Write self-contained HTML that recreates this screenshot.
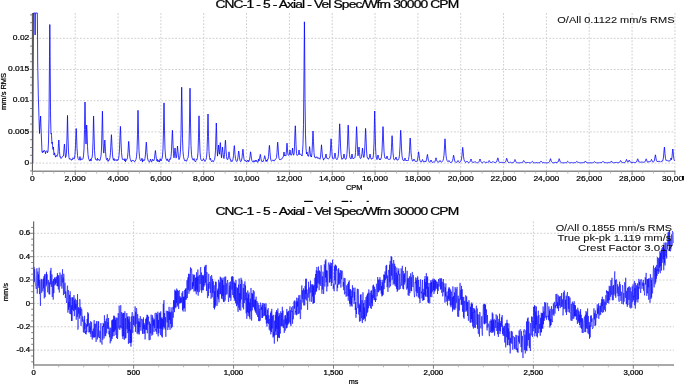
<!DOCTYPE html>
<html><head><meta charset="utf-8"><style>
html,body{margin:0;padding:0;background:#fff;width:685px;height:385px;overflow:hidden}
svg{display:block;font-family:"Liberation Sans",sans-serif;will-change:transform}
.g{stroke:#cfcfcf;stroke-width:1;stroke-dasharray:1.8 1.6;fill:none}
.t{stroke:#707070;stroke-width:0.9}
.tm{stroke:#a8a8a8;stroke-width:0.8}
.tx{fill:#000;stroke:#000;stroke-width:0.22px}
.tx2{fill:#111;stroke:#111;stroke-width:0.08px}
</style></head><body>
<svg width="685" height="385" viewBox="0 0 685 385">
<rect width="685" height="385" fill="#fff"/>
<line x1="32.4" y1="163.10" x2="674.9" y2="163.10" class="g"/>
<line x1="32.4" y1="131.90" x2="674.9" y2="131.90" class="g"/>
<line x1="32.4" y1="100.70" x2="674.9" y2="100.70" class="g"/>
<line x1="32.4" y1="69.50" x2="674.9" y2="69.50" class="g"/>
<line x1="32.4" y1="38.30" x2="674.9" y2="38.30" class="g"/>
<line x1="75.23" y1="13.0" x2="75.23" y2="171.3" class="g"/>
<line x1="118.07" y1="13.0" x2="118.07" y2="171.3" class="g"/>
<line x1="160.90" y1="13.0" x2="160.90" y2="171.3" class="g"/>
<line x1="203.73" y1="13.0" x2="203.73" y2="171.3" class="g"/>
<line x1="246.57" y1="13.0" x2="246.57" y2="171.3" class="g"/>
<line x1="289.40" y1="13.0" x2="289.40" y2="171.3" class="g"/>
<line x1="332.23" y1="13.0" x2="332.23" y2="171.3" class="g"/>
<line x1="375.07" y1="13.0" x2="375.07" y2="171.3" class="g"/>
<line x1="417.90" y1="13.0" x2="417.90" y2="171.3" class="g"/>
<line x1="460.73" y1="13.0" x2="460.73" y2="171.3" class="g"/>
<line x1="503.57" y1="13.0" x2="503.57" y2="171.3" class="g"/>
<line x1="546.40" y1="13.0" x2="546.40" y2="171.3" class="g"/>
<line x1="589.23" y1="13.0" x2="589.23" y2="171.3" class="g"/>
<line x1="632.07" y1="13.0" x2="632.07" y2="171.3" class="g"/>
<line x1="674.90" y1="13.0" x2="674.90" y2="171.3" class="g"/>
<line x1="33.7" y1="350.14" x2="674.0" y2="350.14" class="g"/>
<line x1="33.7" y1="326.77" x2="674.0" y2="326.77" class="g"/>
<line x1="33.7" y1="303.40" x2="674.0" y2="303.40" class="g"/>
<line x1="33.7" y1="280.03" x2="674.0" y2="280.03" class="g"/>
<line x1="33.7" y1="256.66" x2="674.0" y2="256.66" class="g"/>
<line x1="33.7" y1="233.29" x2="674.0" y2="233.29" class="g"/>
<line x1="133.63" y1="221.4" x2="133.63" y2="365.0" class="g"/>
<line x1="233.57" y1="221.4" x2="233.57" y2="365.0" class="g"/>
<line x1="333.50" y1="221.4" x2="333.50" y2="365.0" class="g"/>
<line x1="433.43" y1="221.4" x2="433.43" y2="365.0" class="g"/>
<line x1="533.37" y1="221.4" x2="533.37" y2="365.0" class="g"/>
<line x1="633.30" y1="221.4" x2="633.30" y2="365.0" class="g"/>
<path d="M32.80,163.10 L33.50,13.00 L34.90,13.00 L35.10,35.00 L35.30,13.00 L37.30,13.00 L37.50,30.00 L37.70,64.00 L38.30,95.00 L38.90,115.00 L39.50,133.50 L40.10,122.00 L40.60,116.00 L41.20,132.00 L42.00,152.04 L42.50,152.74 L43.00,150.86 L43.50,152.13 L44.00,150.34 L44.50,150.52 L45.00,150.97 L45.50,153.78 L46.00,151.47 L46.50,150.93 L47.00,150.78 L47.50,152.77 L48.00,151.26 L48.50,142.06 L49.00,118.62 L49.50,56.28 L49.80,24.50 L50.00,40.69 L50.50,110.20 L50.60,118.00 L51.00,133.60 L51.30,133.00 L51.50,135.27 L52.00,143.59 L52.20,142.00 L52.50,145.27 L53.00,149.50 L53.30,147.00 L53.50,148.22 L54.00,155.05 L54.50,152.89 L55.00,154.60 L55.50,157.16 L56.00,155.91 L56.50,155.43 L57.00,156.44 L57.50,155.52 L58.00,153.08 L58.50,143.58 L58.80,140.00 L59.00,141.74 L59.50,151.55 L60.00,157.24 L60.50,156.81 L61.00,158.47 L61.50,157.86 L62.00,157.52 L62.50,156.34 L63.00,156.16 L63.50,155.90 L64.00,148.70 L64.40,144.00 L64.50,144.38 L65.00,152.09 L65.50,157.59 L66.00,156.67 L66.50,152.02 L67.00,136.98 L67.50,115.40 L68.00,136.98 L68.50,152.02 L69.00,157.45 L69.50,159.25 L70.00,158.59 L70.50,159.15 L71.00,159.25 L71.50,160.32 L72.00,159.05 L72.50,159.56 L73.00,157.69 L73.50,158.30 L74.00,159.09 L74.50,158.08 L75.00,154.32 L75.50,145.80 L76.00,131.11 L76.20,128.50 L76.50,133.87 L77.00,148.10 L77.50,155.32 L78.00,158.55 L78.50,159.49 L79.00,160.19 L79.50,158.97 L80.00,156.57 L80.50,160.14 L81.00,159.90 L81.50,158.95 L82.00,158.63 L82.50,159.41 L83.00,158.80 L83.50,155.86 L84.00,148.91 L84.50,129.65 L85.00,102.00 L85.50,129.65 L86.00,144.05 L86.50,127.88 L86.70,125.00 L87.00,130.91 L87.50,146.58 L88.00,154.54 L88.50,158.09 L89.00,159.45 L89.50,160.86 L90.00,160.63 L90.50,158.93 L91.00,161.08 L91.50,158.39 L92.00,158.12 L92.50,153.68 L93.00,141.59 L93.50,117.51 L93.60,116.00 L94.00,132.29 L94.50,150.29 L95.00,156.80 L95.50,159.46 L96.00,159.75 L96.50,159.62 L97.00,160.56 L97.50,158.21 L98.00,160.09 L98.50,159.53 L99.00,160.39 L99.50,160.20 L100.00,160.51 L100.50,158.09 L101.00,156.16 L101.50,148.99 L102.00,129.15 L102.40,111.20 L102.50,112.86 L103.00,139.40 L103.50,152.72 L104.00,153.08 L104.50,143.58 L104.80,140.00 L105.00,141.74 L105.50,151.55 L106.00,157.24 L106.50,159.75 L107.00,159.35 L107.50,158.16 L108.00,161.41 L108.50,160.02 L109.00,160.51 L109.50,159.71 L110.00,157.42 L110.50,152.40 L111.00,141.69 L111.40,134.70 L111.50,135.27 L112.00,146.73 L112.50,154.91 L113.00,158.54 L113.50,160.26 L114.00,158.46 L114.50,160.55 L115.00,159.67 L115.50,160.05 L116.00,160.53 L116.50,160.62 L117.00,159.36 L117.50,160.42 L118.00,160.22 L118.50,158.71 L119.00,155.76 L119.50,149.27 L120.00,135.43 L120.40,126.40 L120.50,127.13 L121.00,141.94 L121.50,152.52 L122.00,157.20 L122.50,159.43 L123.00,159.39 L123.50,159.36 L124.00,159.27 L124.50,160.82 L125.00,158.64 L125.50,161.74 L126.00,159.41 L126.50,159.83 L127.00,159.43 L127.50,157.59 L128.00,152.25 L128.50,143.04 L128.70,141.40 L129.00,144.77 L129.50,153.69 L130.00,158.22 L130.50,159.57 L131.00,161.26 L131.50,161.82 L132.00,160.21 L132.50,160.45 L133.00,160.77 L133.50,160.46 L134.00,161.45 L134.50,161.83 L135.00,160.68 L135.50,160.66 L136.00,159.39 L136.50,156.84 L137.00,150.84 L137.50,134.19 L138.00,110.30 L138.50,134.19 L139.00,150.84 L139.50,156.84 L140.00,159.39 L140.50,160.66 L141.00,160.11 L141.50,160.13 L142.00,158.27 L142.50,162.03 L143.00,159.52 L143.50,160.60 L144.00,160.52 L144.50,160.35 L145.00,158.40 L145.50,154.04 L146.00,145.44 L146.30,142.20 L146.50,143.78 L147.00,152.65 L147.50,157.79 L148.00,160.07 L148.50,161.18 L149.00,161.78 L149.50,162.15 L150.00,161.08 L150.50,159.04 L151.00,160.45 L151.50,161.78 L152.00,161.53 L152.50,159.27 L153.00,160.33 L153.50,160.45 L154.00,160.56 L154.50,158.35 L155.00,153.60 L155.40,150.50 L155.50,150.75 L156.00,155.84 L156.50,159.47 L157.00,161.08 L157.50,159.31 L158.00,161.88 L158.50,160.65 L159.00,160.51 L159.50,161.94 L160.00,158.64 L160.50,158.92 L161.00,161.00 L161.50,159.67 L162.00,158.87 L162.50,155.97 L163.00,149.12 L163.50,130.14 L164.00,102.90 L164.50,130.14 L165.00,149.12 L165.50,155.97 L166.00,158.87 L166.50,160.14 L167.00,160.51 L167.50,158.85 L168.00,161.10 L168.50,160.92 L169.00,161.77 L169.50,158.81 L170.00,159.46 L170.50,159.18 L171.00,156.54 L171.50,150.74 L172.00,138.37 L172.40,130.30 L172.50,130.96 L173.00,144.19 L173.50,153.65 L174.00,157.83 L174.50,153.10 L175.00,148.00 L175.50,153.10 L176.00,158.13 L176.50,157.48 L177.00,151.78 L177.50,146.00 L178.00,151.78 L178.50,157.48 L179.00,159.57 L179.50,158.64 L180.00,155.91 L180.50,149.92 L181.00,134.13 L181.50,96.06 L181.70,87.20 L182.00,104.60 L182.50,138.74 L183.00,151.58 L183.50,156.62 L184.00,158.88 L184.50,160.28 L185.00,161.05 L185.50,160.30 L186.00,160.50 L186.50,161.30 L187.00,160.01 L187.50,158.37 L188.00,157.83 L188.50,154.22 L189.00,145.70 L189.50,122.09 L190.00,88.20 L190.50,122.09 L191.00,145.70 L191.50,154.22 L192.00,157.83 L192.50,158.89 L193.00,160.23 L193.50,159.92 L194.00,158.45 L194.50,160.71 L195.00,161.12 L195.50,161.92 L196.00,160.46 L196.50,158.95 L197.00,159.49 L197.50,157.49 L198.00,152.11 L198.50,137.20 L199.00,115.80 L199.50,137.20 L200.00,152.11 L200.50,157.49 L201.00,159.77 L201.50,160.56 L202.00,160.30 L202.50,160.61 L203.00,160.00 L203.50,158.58 L204.00,159.92 L204.50,160.49 L205.00,161.50 L205.50,160.15 L206.00,159.65 L206.50,157.28 L207.00,151.70 L207.50,136.22 L208.00,114.00 L208.50,136.22 L209.00,151.70 L209.50,157.28 L210.00,159.65 L210.50,158.27 L211.00,160.39 L211.50,161.42 L212.00,161.83 L212.50,160.68 L213.00,160.81 L213.50,161.61 L214.00,160.52 L214.50,159.68 L215.00,157.01 L215.50,150.23 L216.00,132.19 L216.30,123.00 L216.50,127.68 L217.00,147.79 L217.50,156.14 L218.00,151.11 L218.50,145.00 L219.00,151.11 L219.50,154.21 L220.00,145.78 L220.30,142.60 L220.50,144.15 L221.00,152.85 L221.50,157.81 L222.00,152.44 L222.50,147.00 L223.00,152.44 L223.50,157.81 L224.00,158.52 L224.50,154.47 L225.00,145.84 L225.40,140.20 L225.50,140.66 L226.00,149.90 L226.50,156.50 L227.00,159.42 L227.50,159.40 L228.00,159.38 L228.50,155.62 L229.00,151.80 L229.50,155.62 L230.00,159.38 L230.50,159.19 L231.00,161.47 L231.50,160.65 L232.00,161.62 L232.50,160.80 L233.00,159.17 L233.50,155.51 L234.00,148.32 L234.30,145.60 L234.50,146.92 L235.00,154.35 L235.50,158.66 L236.00,160.56 L236.50,161.41 L237.00,161.35 L237.50,160.03 L238.00,157.05 L238.50,151.91 L238.70,151.00 L239.00,152.88 L239.50,157.85 L240.00,160.38 L240.50,161.51 L241.00,161.44 L241.50,160.05 L242.00,157.86 L242.50,152.62 L242.90,149.20 L243.00,149.48 L243.50,155.09 L244.00,159.09 L244.50,160.35 L245.00,161.11 L245.50,160.35 L246.00,161.01 L246.50,162.05 L247.00,161.07 L247.50,160.92 L248.00,160.02 L248.50,161.89 L249.00,161.03 L249.50,159.84 L250.00,156.59 L250.50,152.03 L250.60,151.80 L251.00,154.58 L251.50,158.84 L252.00,160.84 L252.50,161.75 L253.00,161.63 L253.50,161.99 L254.00,160.50 L254.50,161.64 L255.00,161.53 L255.50,160.25 L256.00,161.53 L256.50,160.37 L257.00,161.70 L257.50,161.91 L258.00,162.36 L258.50,158.95 L259.00,161.00 L259.50,159.33 L260.00,155.75 L260.30,154.40 L260.50,155.06 L261.00,158.75 L261.50,160.89 L262.00,161.84 L262.50,161.52 L263.00,161.80 L263.50,159.86 L264.00,159.40 L264.50,156.26 L264.70,155.70 L265.00,156.85 L265.50,159.22 L266.00,161.44 L266.50,159.97 L267.00,161.40 L267.50,159.48 L268.00,159.54 L268.50,156.39 L269.00,149.68 L269.40,145.30 L269.50,145.66 L270.00,152.84 L270.50,157.97 L271.00,160.24 L271.50,161.32 L272.00,160.61 L272.50,160.28 L273.00,160.31 L273.50,160.30 L274.00,161.17 L274.50,160.24 L275.00,160.20 L275.50,159.05 L276.00,158.54 L276.50,157.79 L277.00,152.65 L277.50,143.78 L277.70,142.20 L278.00,145.44 L278.50,154.04 L279.00,158.40 L279.50,159.51 L280.00,160.09 L280.50,159.29 L281.00,159.15 L281.50,159.10 L282.00,158.77 L282.50,157.69 L283.00,157.45 L283.50,155.75 L284.00,152.00 L284.50,155.75 L285.00,154.95 L285.50,156.07 L286.00,155.49 L286.50,149.92 L287.00,143.20 L287.50,149.92 L288.00,154.88 L288.50,155.12 L289.00,155.33 L289.50,154.43 L290.00,150.00 L290.50,154.43 L291.00,155.42 L291.50,154.93 L292.00,153.10 L292.50,148.00 L293.00,153.10 L293.50,155.11 L294.00,154.72 L294.50,146.93 L295.00,131.59 L295.30,125.80 L295.50,128.62 L296.00,144.45 L296.50,153.63 L297.00,155.48 L297.50,155.19 L298.00,154.54 L298.50,154.43 L299.00,150.00 L299.50,154.43 L300.00,154.62 L300.50,154.23 L301.00,154.42 L301.50,155.03 L302.00,156.05 L302.50,152.18 L303.00,144.21 L303.50,124.68 L304.00,70.68 L304.40,21.80 L304.50,26.32 L305.00,98.58 L305.50,134.84 L306.00,148.17 L306.50,154.03 L307.00,152.00 L307.50,154.93 L308.00,156.14 L308.50,156.29 L309.00,153.59 L309.50,146.93 L309.60,146.60 L310.00,150.66 L310.50,156.33 L311.00,155.82 L311.50,157.03 L312.00,152.54 L312.50,141.84 L313.00,131.00 L313.50,141.84 L314.00,152.54 L314.50,157.13 L315.00,156.77 L315.50,157.72 L316.00,158.20 L316.50,156.91 L317.00,157.39 L317.50,157.26 L318.00,158.58 L318.50,157.85 L319.00,158.08 L319.50,158.33 L320.00,159.25 L320.50,157.08 L321.00,150.98 L321.50,144.80 L322.00,150.98 L322.50,157.08 L323.00,157.99 L323.50,160.17 L324.00,158.69 L324.50,158.39 L325.00,158.40 L325.50,157.07 L326.00,154.00 L326.50,157.07 L327.00,158.64 L327.50,158.36 L328.00,159.14 L328.50,158.86 L329.00,158.31 L329.50,157.71 L330.00,156.10 L330.50,149.09 L331.00,139.29 L331.10,138.80 L331.50,144.78 L332.00,153.94 L332.50,158.24 L333.00,158.99 L333.50,159.00 L334.00,158.44 L334.50,156.41 L335.00,153.00 L335.50,156.41 L336.00,158.72 L336.50,159.29 L337.00,159.78 L337.50,158.34 L338.00,157.40 L338.50,153.12 L339.00,143.45 L339.50,126.77 L339.70,123.80 L340.00,129.90 L340.50,146.06 L341.00,154.27 L341.50,157.94 L342.00,159.36 L342.50,158.60 L343.00,158.84 L343.50,157.07 L344.00,154.00 L344.50,157.07 L345.00,158.50 L345.50,159.31 L346.00,159.17 L346.50,157.59 L347.00,153.45 L347.50,144.10 L348.00,127.97 L348.20,125.10 L348.50,131.00 L349.00,146.62 L349.50,154.56 L350.00,158.11 L350.50,158.39 L351.00,159.05 L351.50,157.07 L352.00,154.00 L352.50,157.07 L353.00,158.87 L353.50,158.51 L354.00,158.29 L354.50,158.04 L355.00,157.24 L355.50,152.58 L356.00,142.06 L356.50,127.33 L356.60,126.60 L357.00,135.58 L357.50,149.34 L358.00,155.80 L358.50,152.44 L359.00,147.00 L359.50,152.44 L360.00,157.81 L360.50,158.56 L361.00,158.24 L361.50,156.76 L362.00,153.10 L362.50,148.00 L363.00,153.10 L363.50,157.10 L364.00,157.53 L364.50,153.10 L365.00,143.10 L365.50,129.09 L365.60,128.40 L366.00,136.94 L366.50,150.02 L367.00,156.16 L367.50,158.04 L368.00,158.00 L368.50,159.39 L369.00,158.07 L369.50,157.07 L370.00,154.00 L370.50,157.07 L371.00,158.65 L371.50,159.34 L372.00,158.34 L372.50,158.91 L373.00,158.16 L373.50,154.06 L374.00,143.21 L374.50,117.08 L374.70,111.00 L375.00,122.95 L375.50,146.38 L376.00,155.19 L376.50,158.65 L377.00,159.61 L377.50,157.74 L378.00,155.00 L378.50,157.74 L379.00,158.78 L379.50,159.81 L380.00,158.70 L380.50,159.61 L381.00,158.77 L381.50,156.57 L382.00,151.10 L382.50,138.93 L383.00,126.60 L383.50,138.93 L384.00,151.10 L384.50,156.57 L385.00,158.22 L385.50,158.18 L386.00,158.51 L386.50,158.40 L387.00,156.00 L387.50,158.40 L388.00,159.24 L388.50,159.27 L389.00,159.39 L389.50,159.24 L390.00,159.50 L390.50,158.70 L391.00,155.20 L391.50,147.30 L392.00,136.25 L392.10,135.70 L392.50,142.44 L393.00,152.77 L393.50,157.62 L394.00,159.83 L394.50,159.77 L395.00,159.30 L395.50,159.06 L396.00,157.00 L396.50,159.06 L397.00,160.19 L397.50,159.89 L398.00,160.20 L398.50,159.35 L399.00,158.34 L399.50,154.77 L400.00,146.70 L400.50,132.78 L400.70,130.30 L401.00,135.39 L401.50,148.88 L402.00,155.73 L402.50,158.79 L403.00,160.32 L403.50,160.19 L404.00,160.86 L404.50,159.72 L405.00,158.00 L405.50,159.72 L406.00,160.91 L406.50,160.52 L407.00,160.58 L407.50,160.08 L408.00,160.79 L408.50,159.46 L409.00,156.73 L409.50,150.55 L410.00,139.89 L410.20,138.00 L410.50,141.89 L411.00,152.22 L411.50,157.46 L412.00,159.80 L412.50,160.97 L413.00,161.17 L413.50,160.39 L414.00,159.00 L414.50,160.39 L415.00,161.21 L415.50,161.26 L416.00,161.30 L416.50,161.97 L417.00,161.28 L417.50,159.84 L418.00,156.59 L418.50,152.03 L418.60,151.80 L419.00,154.58 L419.50,158.84 L420.00,160.84 L420.50,161.75 L421.00,161.87 L421.50,161.92 L422.00,160.72 L422.50,159.50 L423.00,160.72 L423.50,161.92 L424.00,161.96 L424.50,161.57 L425.00,160.95 L425.50,162.06 L426.00,161.36 L426.50,159.82 L427.00,156.54 L427.40,154.40 L427.50,154.57 L428.00,158.08 L428.50,160.59 L429.00,161.70 L429.50,162.23 L430.00,162.08 L430.50,161.05 L431.00,160.00 L431.50,161.05 L432.00,162.08 L432.50,162.55 L433.00,162.44 L433.50,161.96 L434.00,162.07 L434.50,162.15 L435.00,161.36 L435.50,159.59 L436.00,157.80 L436.50,159.59 L437.00,161.36 L437.50,161.85 L438.00,162.34 L438.50,162.00 L439.00,162.24 L439.50,161.38 L440.00,160.50 L440.50,161.38 L441.00,161.54 L441.50,162.17 L442.00,161.85 L442.50,161.33 L443.00,160.45 L443.50,158.75 L444.00,155.11 L444.50,147.01 L445.00,138.80 L445.50,147.01 L446.00,155.11 L446.50,158.75 L447.00,160.45 L447.50,161.33 L448.00,161.85 L448.50,161.38 L449.00,160.50 L449.50,161.38 L450.00,162.24 L450.50,162.49 L451.00,161.87 L451.50,162.31 L452.00,161.83 L452.50,160.82 L453.00,158.55 L453.50,155.36 L453.60,155.20 L454.00,157.14 L454.50,160.12 L455.00,161.52 L455.50,162.16 L456.00,162.48 L456.50,162.25 L457.00,162.24 L457.50,161.38 L458.00,160.50 L458.50,161.38 L459.00,162.24 L459.50,162.38 L460.00,162.11 L460.50,161.66 L461.00,160.82 L461.50,159.11 L462.00,155.25 L462.50,148.58 L462.70,147.40 L463.00,149.84 L463.50,156.29 L464.00,159.57 L464.50,161.04 L465.00,161.77 L465.50,162.18 L466.00,162.41 L466.50,161.71 L467.00,161.00 L467.50,161.71 L468.00,162.41 L468.50,162.72 L469.00,162.65 L469.50,162.31 L470.00,161.75 L470.50,160.39 L471.00,159.00 L471.50,160.39 L472.00,161.75 L472.50,162.37 L473.00,162.65 L473.50,162.23 L474.00,162.57 L474.50,162.04 L475.00,161.50 L475.50,162.04 L476.00,162.22 L476.50,162.72 L477.00,162.80 L477.50,162.80 L478.00,162.35 L478.50,162.26 L479.00,161.75 L479.50,160.39 L480.00,159.00 L480.50,160.39 L481.00,161.75 L481.50,162.37 L482.00,162.65 L482.50,162.80 L483.00,162.57 L483.50,162.04 L484.00,161.50 L484.50,162.04 L485.00,162.32 L485.50,162.65 L486.00,162.41 L486.50,162.30 L487.00,162.52 L487.50,161.92 L488.00,162.44 L488.50,161.80 L489.00,160.70 L489.20,160.50 L489.50,160.90 L490.00,161.97 L490.50,162.52 L491.00,162.52 L491.50,162.47 L492.00,162.50 L492.50,162.04 L493.00,161.50 L493.50,162.04 L494.00,162.57 L494.50,162.41 L495.00,162.79 L495.50,162.55 L496.00,162.40 L496.50,161.91 L497.00,160.80 L497.50,158.62 L497.80,157.80 L498.00,158.20 L498.50,160.45 L499.00,161.75 L499.50,162.33 L500.00,162.61 L500.50,162.44 L501.00,162.74 L501.50,162.37 L502.00,162.00 L502.50,162.37 L503.00,162.60 L503.50,162.43 L504.00,162.79 L504.50,162.65 L505.00,162.39 L505.50,161.86 L506.00,160.65 L506.50,158.57 L506.70,158.20 L507.00,158.96 L507.50,160.98 L508.00,162.00 L508.50,162.46 L509.00,162.68 L509.50,162.10 L510.00,162.67 L510.50,162.18 L511.00,162.47 L511.50,162.80 L512.00,162.80 L512.50,162.65 L513.00,162.71 L513.50,162.46 L514.00,161.92 L514.50,160.72 L515.00,159.50 L515.50,160.72 L516.00,161.92 L516.50,162.46 L517.00,162.71 L517.50,162.80 L518.00,162.71 L518.50,162.80 L519.00,162.80 L519.50,162.80 L520.00,162.80 L520.50,162.80 L521.00,162.26 L521.50,162.80 L522.00,162.58 L522.50,162.44 L523.00,161.80 L523.50,160.70 L523.70,160.50 L524.00,160.90 L524.50,161.97 L525.00,162.52 L525.50,162.76 L526.00,162.80 L526.50,162.60 L527.00,162.80 L527.50,162.52 L528.00,162.80 L528.50,162.21 L529.00,162.80 L529.50,162.80 L530.00,162.50 L530.50,162.80 L531.00,162.70 L531.50,162.32 L532.00,161.58 L532.30,161.30 L532.50,161.44 L533.00,162.20 L533.50,162.64 L534.00,162.80 L534.50,162.80 L535.00,162.47 L535.50,162.80 L536.00,162.80 L536.50,162.51 L537.00,162.51 L537.50,162.80 L538.00,162.80 L538.50,162.80 L539.00,162.80 L539.50,162.72 L540.00,162.41 L540.50,161.71 L541.00,161.00 L541.50,161.71 L542.00,162.41 L542.50,162.72 L543.00,162.52 L543.50,162.42 L544.00,162.80 L544.50,162.80 L545.00,162.80 L545.50,162.80 L546.00,162.32 L546.50,162.80 L547.00,162.80 L547.50,162.80 L548.00,162.78 L548.50,162.62 L549.00,162.31 L549.50,161.65 L550.00,160.19 L550.50,158.70 L551.00,160.19 L551.50,161.65 L552.00,162.31 L552.50,162.62 L553.00,162.78 L553.50,162.80 L554.00,162.55 L554.50,162.69 L555.00,162.80 L555.50,162.15 L556.00,162.06 L556.50,162.80 L557.00,162.70 L557.50,162.00 L558.00,161.98 L558.50,160.90 L559.00,159.03 L559.20,158.70 L559.50,159.38 L560.00,161.19 L560.50,162.11 L561.00,162.52 L561.50,162.73 L562.00,162.80 L562.50,162.80 L563.00,162.80 L563.50,162.80 L564.00,162.47 L564.50,162.68 L565.00,162.64 L565.50,162.69 L566.00,162.78 L566.50,162.64 L567.00,162.20 L567.50,161.44 L567.70,161.30 L568.00,161.58 L568.50,162.32 L569.00,162.70 L569.50,162.80 L570.00,162.80 L570.50,162.75 L571.00,162.80 L571.50,162.44 L572.00,162.80 L572.50,162.80 L573.00,162.80 L573.50,162.80 L574.00,162.80 L574.50,162.47 L575.00,162.60 L575.50,162.70 L576.00,162.32 L576.50,161.58 L576.80,161.30 L577.00,161.44 L577.50,162.20 L578.00,162.05 L578.50,162.40 L579.00,162.76 L579.50,162.69 L580.00,162.61 L580.50,162.80 L581.00,162.80 L581.50,162.78 L582.00,162.80 L582.50,162.80 L583.00,162.77 L583.50,162.09 L584.00,162.68 L584.50,162.31 L585.00,161.52 L585.40,161.00 L585.50,161.04 L586.00,161.89 L586.50,162.49 L587.00,162.76 L587.50,162.80 L588.00,162.64 L588.50,162.79 L589.00,162.80 L589.50,162.80 L590.00,162.79 L590.50,162.65 L591.00,162.80 L591.50,162.80 L592.00,162.80 L592.50,162.80 L593.00,162.32 L593.50,162.57 L594.00,162.04 L594.50,161.50 L595.00,162.04 L595.50,162.57 L596.00,162.80 L596.50,162.80 L597.00,162.80 L597.50,162.80 L598.00,162.80 L598.50,162.80 L599.00,162.80 L599.50,162.73 L600.00,162.61 L600.50,162.53 L601.00,162.80 L601.50,162.51 L602.00,162.43 L602.50,161.84 L603.00,161.20 L603.50,161.84 L604.00,162.48 L604.50,162.50 L605.00,162.80 L605.50,162.67 L606.00,162.80 L606.50,162.80 L607.00,162.80 L607.50,162.80 L608.00,162.71 L608.50,162.44 L609.00,162.40 L609.50,162.70 L610.00,162.68 L610.50,162.31 L611.00,161.52 L611.40,161.00 L611.50,161.04 L612.00,161.89 L612.50,162.49 L613.00,162.76 L613.50,162.80 L614.00,162.80 L614.50,162.80 L615.00,162.24 L615.50,162.54 L616.00,162.80 L616.50,162.41 L617.00,162.23 L617.50,162.68 L618.00,162.77 L618.50,162.66 L619.00,162.48 L619.50,162.35 L620.00,161.60 L620.50,160.55 L620.60,160.50 L621.00,161.14 L621.50,162.12 L622.00,162.58 L622.50,162.56 L623.00,162.42 L623.50,162.61 L624.00,162.24 L624.50,162.59 L625.00,162.44 L625.50,161.88 L626.00,160.65 L626.50,159.40 L627.00,160.65 L627.50,161.88 L628.00,162.31 L628.50,161.55 L629.00,160.23 L629.20,160.00 L629.50,160.48 L630.00,161.76 L630.50,162.09 L631.00,162.55 L631.50,162.72 L632.00,161.84 L632.50,162.52 L633.00,162.73 L633.50,162.32 L634.00,162.26 L634.50,162.56 L635.00,162.15 L635.50,162.49 L636.00,162.48 L636.50,162.01 L637.00,160.95 L637.50,159.12 L637.70,158.80 L638.00,159.47 L638.50,161.24 L639.00,162.13 L639.50,161.93 L640.00,162.31 L640.50,162.31 L641.00,162.07 L641.50,162.00 L642.00,161.88 L642.50,162.11 L643.00,162.34 L643.50,162.30 L644.00,162.00 L644.50,161.96 L645.00,161.73 L645.50,160.95 L646.00,159.12 L646.20,158.80 L646.50,159.47 L647.00,161.24 L647.50,162.13 L648.00,162.36 L648.50,161.54 L649.00,162.16 L649.50,161.59 L650.00,161.74 L650.50,161.43 L651.00,160.65 L651.50,159.40 L652.00,160.65 L652.50,161.78 L653.00,161.73 L653.50,161.90 L654.00,161.44 L654.50,159.97 L655.00,156.84 L655.40,154.80 L655.50,154.97 L656.00,158.32 L656.50,160.71 L657.00,161.64 L657.50,161.40 L658.00,161.99 L658.50,161.27 L659.00,161.70 L659.50,161.36 L660.00,161.45 L660.50,162.14 L661.00,161.63 L661.50,161.34 L662.00,160.97 L662.50,161.18 L663.00,159.88 L663.50,157.03 L664.00,150.96 L664.40,147.00 L664.50,147.32 L665.00,153.82 L665.50,158.46 L666.00,160.51 L666.50,160.38 L667.00,160.85 L667.50,160.68 L668.00,160.83 L668.50,161.18 L669.00,160.56 L669.50,161.18 L670.00,160.89 L670.50,159.72 L671.00,158.00 L671.50,159.72 L672.00,156.99 L672.50,151.19 L672.80,149.00 L673.00,150.06 L673.50,156.05 L674.00,159.52 L674.50,160.85" fill="none" stroke="#0000ff" stroke-width="0.8" stroke-linejoin="round"/>
<path d="M33.70,283.41 L34.02,266.91 L34.34,281.94 L34.66,269.07 L34.98,274.58 L35.30,281.27 L35.62,285.75 L35.94,286.62 L36.26,289.04 L36.58,279.17 L36.90,268.25 L37.22,293.62 L37.54,288.79 L37.86,271.55 L38.18,285.76 L38.50,274.51 L38.82,287.93 L39.14,267.65 L39.46,294.14 L39.78,279.88 L40.10,285.20 L40.42,305.86 L40.74,290.60 L41.06,278.78 L41.38,279.47 L41.70,292.81 L42.02,279.49 L42.34,287.45 L42.66,290.07 L42.98,291.33 L43.30,278.63 L43.62,288.39 L43.94,276.18 L44.26,298.43 L44.58,274.27 L44.90,293.62 L45.22,297.08 L45.54,289.05 L45.86,273.83 L46.18,286.31 L46.50,271.77 L46.82,284.29 L47.14,274.33 L47.46,289.46 L47.78,292.38 L48.10,286.51 L48.42,280.14 L48.74,289.06 L49.06,294.21 L49.38,282.37 L49.70,294.51 L50.02,279.93 L50.34,270.67 L50.66,284.42 L50.98,267.89 L51.30,286.86 L51.62,283.00 L51.94,274.36 L52.26,296.98 L52.58,283.13 L52.90,280.83 L53.22,299.63 L53.54,279.09 L53.86,293.10 L54.18,281.21 L54.50,277.75 L54.82,285.41 L55.14,277.28 L55.46,284.38 L55.78,279.13 L56.10,282.96 L56.42,276.65 L56.74,283.60 L57.06,286.02 L57.38,273.04 L57.70,286.38 L58.02,275.06 L58.34,289.46 L58.66,275.62 L58.98,279.25 L59.30,292.49 L59.62,274.91 L59.94,272.59 L60.26,273.73 L60.58,274.54 L60.90,286.34 L61.22,274.69 L61.54,276.30 L61.86,288.62 L62.18,286.37 L62.50,269.25 L62.82,282.55 L63.14,277.52 L63.46,295.10 L63.78,273.78 L64.10,280.60 L64.42,288.75 L64.74,294.01 L65.06,282.73 L65.38,297.96 L65.70,291.44 L66.02,294.87 L66.34,300.65 L66.66,302.93 L66.98,293.37 L67.30,286.40 L67.62,285.63 L67.94,312.68 L68.26,290.00 L68.58,309.89 L68.90,301.86 L69.22,307.26 L69.54,294.83 L69.86,313.85 L70.18,291.29 L70.50,312.07 L70.82,314.24 L71.14,297.45 L71.46,321.01 L71.78,305.34 L72.10,320.94 L72.42,297.26 L72.74,309.90 L73.06,297.50 L73.38,307.23 L73.70,311.16 L74.02,295.12 L74.34,316.14 L74.66,300.28 L74.98,308.76 L75.30,298.57 L75.62,310.05 L75.94,304.02 L76.26,319.72 L76.58,301.30 L76.90,299.91 L77.22,316.88 L77.54,294.10 L77.86,329.68 L78.18,327.71 L78.50,307.23 L78.82,313.61 L79.14,308.29 L79.46,318.60 L79.78,299.12 L80.10,301.43 L80.42,315.59 L80.74,307.07 L81.06,325.88 L81.38,310.02 L81.70,308.71 L82.02,311.23 L82.34,321.65 L82.66,316.50 L82.98,316.66 L83.30,332.25 L83.62,332.17 L83.94,319.54 L84.26,332.96 L84.58,315.81 L84.90,329.30 L85.22,322.80 L85.54,333.90 L85.86,330.96 L86.18,334.37 L86.50,324.31 L86.82,331.99 L87.14,318.98 L87.46,326.68 L87.78,312.16 L88.10,325.74 L88.42,313.56 L88.74,332.30 L89.06,332.49 L89.38,323.22 L89.70,332.02 L90.02,326.43 L90.34,333.80 L90.66,321.15 L90.98,336.92 L91.30,332.27 L91.62,322.17 L91.94,336.06 L92.26,339.55 L92.58,331.07 L92.90,337.50 L93.22,328.60 L93.54,337.37 L93.86,326.61 L94.18,320.14 L94.50,337.40 L94.82,323.96 L95.14,337.27 L95.46,336.67 L95.78,323.67 L96.10,341.94 L96.42,321.18 L96.74,326.39 L97.06,328.82 L97.38,339.54 L97.70,328.35 L98.02,321.04 L98.34,336.86 L98.66,321.56 L98.98,337.82 L99.30,336.94 L99.62,337.97 L99.94,330.62 L100.26,342.43 L100.58,330.52 L100.90,323.06 L101.22,340.28 L101.54,342.02 L101.86,344.41 L102.18,344.56 L102.50,326.18 L102.82,339.72 L103.14,322.84 L103.46,326.87 L103.78,324.12 L104.10,338.41 L104.42,315.24 L104.74,332.15 L105.06,335.86 L105.38,321.20 L105.70,336.28 L106.02,322.23 L106.34,318.59 L106.66,333.25 L106.98,321.16 L107.30,314.25 L107.62,328.55 L107.94,322.11 L108.26,328.92 L108.58,317.94 L108.90,334.36 L109.22,331.13 L109.54,337.29 L109.86,327.53 L110.18,343.34 L110.50,338.93 L110.82,327.82 L111.14,341.22 L111.46,338.62 L111.78,320.39 L112.10,338.97 L112.42,319.79 L112.74,336.50 L113.06,319.34 L113.38,332.02 L113.70,315.69 L114.02,335.94 L114.34,315.86 L114.66,331.45 L114.98,317.43 L115.30,329.66 L115.62,319.81 L115.94,334.99 L116.26,317.66 L116.58,338.09 L116.90,334.17 L117.22,317.71 L117.54,338.99 L117.86,332.63 L118.18,313.15 L118.50,317.54 L118.82,328.55 L119.14,305.63 L119.46,312.29 L119.78,329.96 L120.10,325.61 L120.42,327.34 L120.74,305.20 L121.06,326.03 L121.38,328.28 L121.70,312.05 L122.02,329.38 L122.34,336.42 L122.66,313.45 L122.98,339.04 L123.30,312.92 L123.62,336.25 L123.94,312.96 L124.26,339.84 L124.58,337.89 L124.90,311.22 L125.22,338.33 L125.54,318.18 L125.86,338.20 L126.18,331.81 L126.50,322.29 L126.82,313.06 L127.14,329.22 L127.46,316.85 L127.78,333.13 L128.10,316.28 L128.42,343.91 L128.74,319.28 L129.06,331.37 L129.38,316.62 L129.70,343.02 L130.02,321.79 L130.34,343.04 L130.66,329.50 L130.98,346.63 L131.30,316.44 L131.62,342.50 L131.94,315.31 L132.26,312.09 L132.58,332.22 L132.90,333.13 L133.22,316.16 L133.54,324.90 L133.86,315.56 L134.18,317.07 L134.50,324.21 L134.82,326.64 L135.14,306.42 L135.46,331.88 L135.78,311.79 L136.10,324.02 L136.42,308.09 L136.74,308.98 L137.06,333.45 L137.38,326.06 L137.70,314.14 L138.02,334.35 L138.34,321.20 L138.66,332.44 L138.98,318.39 L139.30,334.43 L139.62,321.92 L139.94,327.13 L140.26,316.14 L140.58,317.94 L140.90,330.74 L141.22,321.41 L141.54,318.89 L141.86,321.18 L142.18,327.92 L142.50,333.65 L142.82,319.17 L143.14,333.88 L143.46,317.39 L143.78,329.02 L144.10,322.97 L144.42,333.58 L144.74,324.70 L145.06,339.40 L145.38,333.51 L145.70,318.95 L146.02,329.71 L146.34,317.56 L146.66,329.93 L146.98,314.73 L147.30,333.37 L147.62,314.95 L147.94,324.61 L148.26,320.25 L148.58,316.58 L148.90,338.61 L149.22,340.25 L149.54,321.68 L149.86,334.47 L150.18,339.76 L150.50,323.81 L150.82,333.51 L151.14,314.58 L151.46,320.72 L151.78,335.66 L152.10,332.89 L152.42,315.17 L152.74,334.68 L153.06,317.70 L153.38,325.82 L153.70,319.82 L154.02,331.95 L154.34,319.28 L154.66,328.16 L154.98,314.49 L155.30,312.81 L155.62,330.49 L155.94,329.17 L156.26,331.96 L156.58,312.93 L156.90,334.20 L157.22,314.60 L157.54,328.55 L157.86,311.69 L158.18,336.40 L158.50,319.96 L158.82,333.12 L159.14,313.14 L159.46,312.84 L159.78,328.66 L160.10,312.94 L160.42,335.10 L160.74,311.40 L161.06,328.67 L161.38,318.22 L161.70,336.45 L162.02,317.26 L162.34,337.51 L162.66,318.99 L162.98,329.47 L163.30,303.80 L163.62,326.58 L163.94,300.12 L164.26,327.69 L164.58,313.11 L164.90,327.82 L165.22,329.59 L165.54,317.10 L165.86,336.80 L166.18,310.71 L166.50,310.92 L166.82,311.50 L167.14,322.43 L167.46,310.97 L167.78,330.05 L168.10,324.13 L168.42,311.59 L168.74,327.36 L169.06,306.84 L169.38,319.99 L169.70,311.61 L170.02,329.86 L170.34,312.37 L170.66,324.00 L170.98,307.34 L171.30,308.13 L171.62,328.27 L171.94,311.50 L172.26,326.95 L172.58,321.17 L172.90,306.91 L173.22,317.65 L173.54,300.23 L173.86,309.48 L174.18,300.35 L174.50,312.16 L174.82,289.68 L175.14,306.92 L175.46,290.77 L175.78,308.18 L176.10,291.28 L176.42,302.88 L176.74,288.56 L177.06,306.70 L177.38,289.93 L177.70,305.57 L178.02,302.98 L178.34,290.91 L178.66,308.91 L178.98,292.62 L179.30,290.23 L179.62,303.51 L179.94,296.16 L180.26,303.03 L180.58,297.67 L180.90,303.08 L181.22,297.44 L181.54,302.38 L181.86,292.82 L182.18,294.07 L182.50,310.17 L182.82,291.04 L183.14,311.54 L183.46,296.88 L183.78,308.61 L184.10,296.59 L184.42,308.01 L184.74,290.02 L185.06,311.64 L185.38,288.76 L185.70,299.78 L186.02,288.32 L186.34,298.54 L186.66,299.52 L186.98,280.22 L187.30,297.92 L187.62,282.10 L187.94,277.32 L188.26,289.70 L188.58,273.78 L188.90,293.71 L189.22,273.96 L189.54,276.95 L189.86,291.24 L190.18,273.67 L190.50,267.33 L190.82,290.08 L191.14,273.29 L191.46,268.58 L191.78,270.67 L192.10,289.18 L192.42,282.24 L192.74,288.80 L193.06,274.14 L193.38,286.40 L193.70,275.32 L194.02,291.62 L194.34,277.97 L194.66,274.73 L194.98,290.88 L195.30,277.67 L195.62,291.41 L195.94,277.76 L196.26,294.34 L196.58,272.24 L196.90,289.75 L197.22,276.69 L197.54,291.82 L197.86,269.50 L198.18,295.70 L198.50,278.60 L198.82,275.71 L199.14,292.22 L199.46,291.36 L199.78,274.85 L200.10,283.93 L200.42,268.78 L200.74,267.14 L201.06,290.30 L201.38,272.41 L201.70,292.79 L202.02,280.34 L202.34,275.32 L202.66,290.12 L202.98,274.82 L203.30,290.26 L203.62,275.80 L203.94,286.70 L204.26,280.18 L204.58,266.84 L204.90,285.26 L205.22,265.40 L205.54,282.71 L205.86,269.42 L206.18,264.87 L206.50,290.95 L206.82,272.05 L207.14,273.17 L207.46,297.87 L207.78,298.12 L208.10,283.67 L208.42,295.91 L208.74,273.84 L209.06,288.76 L209.38,282.03 L209.70,282.98 L210.02,283.79 L210.34,292.86 L210.66,276.27 L210.98,298.71 L211.30,296.99 L211.62,275.04 L211.94,277.65 L212.26,297.34 L212.58,278.94 L212.90,293.12 L213.22,281.56 L213.54,281.40 L213.86,308.06 L214.18,285.22 L214.50,309.42 L214.82,291.43 L215.14,307.33 L215.46,281.77 L215.78,305.36 L216.10,281.77 L216.42,283.75 L216.74,287.69 L217.06,305.93 L217.38,290.42 L217.70,297.09 L218.02,288.59 L218.34,299.25 L218.66,279.84 L218.98,302.44 L219.30,289.12 L219.62,282.40 L219.94,294.30 L220.26,276.73 L220.58,294.07 L220.90,277.56 L221.22,279.64 L221.54,298.30 L221.86,278.41 L222.18,299.25 L222.50,280.15 L222.82,295.97 L223.14,277.59 L223.46,301.77 L223.78,284.85 L224.10,302.13 L224.42,295.55 L224.74,276.76 L225.06,300.68 L225.38,297.34 L225.70,276.54 L226.02,295.07 L226.34,283.36 L226.66,284.62 L226.98,293.89 L227.30,281.63 L227.62,280.00 L227.94,292.73 L228.26,297.89 L228.58,301.98 L228.90,287.57 L229.22,282.26 L229.54,297.44 L229.86,285.72 L230.18,297.81 L230.50,281.57 L230.82,300.81 L231.14,298.08 L231.46,276.65 L231.78,289.70 L232.10,289.37 L232.42,276.12 L232.74,295.02 L233.06,277.07 L233.38,296.84 L233.70,297.40 L234.02,281.47 L234.34,299.45 L234.66,282.81 L234.98,301.10 L235.30,283.36 L235.62,303.21 L235.94,279.94 L236.26,299.63 L236.58,306.20 L236.90,287.18 L237.22,304.73 L237.54,288.17 L237.86,311.16 L238.18,311.87 L238.50,284.68 L238.82,307.66 L239.14,278.56 L239.46,310.13 L239.78,293.01 L240.10,302.40 L240.42,284.00 L240.74,310.63 L241.06,277.77 L241.38,299.48 L241.70,279.88 L242.02,281.46 L242.34,283.38 L242.66,307.38 L242.98,305.59 L243.30,287.91 L243.62,309.34 L243.94,283.89 L244.26,303.05 L244.58,301.27 L244.90,281.40 L245.22,300.28 L245.54,285.47 L245.86,306.71 L246.18,313.37 L246.50,292.54 L246.82,318.80 L247.14,298.19 L247.46,312.02 L247.78,290.47 L248.10,315.99 L248.42,294.31 L248.74,313.34 L249.06,292.45 L249.38,317.27 L249.70,302.54 L250.02,319.28 L250.34,298.62 L250.66,311.30 L250.98,287.95 L251.30,299.53 L251.62,320.60 L251.94,293.03 L252.26,310.29 L252.58,293.75 L252.90,306.72 L253.22,290.09 L253.54,307.32 L253.86,297.46 L254.18,291.39 L254.50,309.44 L254.82,299.89 L255.14,311.35 L255.46,299.61 L255.78,312.76 L256.10,296.66 L256.42,314.64 L256.74,314.08 L257.06,301.05 L257.38,313.27 L257.70,317.02 L258.02,302.84 L258.34,310.36 L258.66,321.07 L258.98,304.91 L259.30,321.22 L259.62,310.38 L259.94,308.66 L260.26,320.69 L260.58,302.65 L260.90,304.67 L261.22,309.91 L261.54,306.86 L261.86,318.00 L262.18,304.93 L262.50,317.89 L262.82,302.94 L263.14,315.07 L263.46,316.27 L263.78,303.38 L264.10,304.22 L264.42,315.48 L264.74,303.59 L265.06,316.11 L265.38,307.42 L265.70,319.63 L266.02,303.45 L266.34,323.45 L266.66,315.03 L266.98,326.52 L267.30,309.78 L267.62,323.07 L267.94,309.84 L268.26,308.18 L268.58,323.86 L268.90,315.38 L269.22,329.68 L269.54,318.91 L269.86,319.24 L270.18,330.93 L270.50,312.89 L270.82,334.36 L271.14,311.34 L271.46,332.10 L271.78,308.80 L272.10,328.47 L272.42,315.73 L272.74,332.87 L273.06,337.51 L273.38,314.88 L273.70,336.42 L274.02,331.71 L274.34,343.66 L274.66,320.63 L274.98,335.30 L275.30,314.84 L275.62,331.55 L275.94,311.88 L276.26,334.99 L276.58,310.00 L276.90,328.81 L277.22,311.55 L277.54,341.39 L277.86,308.43 L278.18,337.48 L278.50,316.37 L278.82,337.43 L279.14,313.02 L279.46,338.09 L279.78,314.83 L280.10,330.89 L280.42,333.53 L280.74,311.34 L281.06,325.90 L281.38,313.02 L281.70,326.47 L282.02,317.69 L282.34,306.78 L282.66,326.25 L282.98,310.61 L283.30,328.00 L283.62,323.68 L283.94,319.47 L284.26,332.93 L284.58,320.99 L284.90,315.55 L285.22,330.62 L285.54,315.13 L285.86,324.26 L286.18,318.46 L286.50,328.34 L286.82,308.93 L287.14,327.69 L287.46,312.26 L287.78,325.16 L288.10,311.32 L288.42,323.64 L288.74,310.80 L289.06,320.00 L289.38,322.35 L289.70,309.20 L290.02,306.37 L290.34,324.33 L290.66,310.24 L290.98,326.27 L291.30,312.82 L291.62,307.27 L291.94,311.82 L292.26,311.20 L292.58,323.75 L292.90,306.01 L293.22,319.29 L293.54,315.66 L293.86,301.35 L294.18,301.49 L294.50,308.62 L294.82,300.36 L295.14,314.61 L295.46,311.17 L295.78,312.18 L296.10,301.57 L296.42,315.27 L296.74,297.63 L297.06,314.54 L297.38,301.48 L297.70,306.65 L298.02,298.26 L298.34,313.94 L298.66,295.34 L298.98,296.18 L299.30,313.45 L299.62,306.38 L299.94,294.90 L300.26,319.15 L300.58,318.31 L300.90,299.81 L301.22,309.56 L301.54,289.26 L301.86,285.40 L302.18,299.21 L302.50,290.41 L302.82,302.56 L303.14,294.09 L303.46,288.33 L303.78,305.44 L304.10,289.83 L304.42,290.31 L304.74,305.45 L305.06,285.95 L305.38,299.28 L305.70,278.86 L306.02,293.82 L306.34,278.66 L306.66,300.49 L306.98,289.50 L307.30,301.29 L307.62,309.90 L307.94,293.28 L308.26,297.59 L308.58,281.77 L308.90,293.57 L309.22,287.45 L309.54,296.17 L309.86,301.62 L310.18,288.25 L310.50,280.66 L310.82,292.61 L311.14,284.24 L311.46,301.72 L311.78,299.69 L312.10,285.03 L312.42,296.56 L312.74,284.17 L313.06,303.88 L313.38,285.97 L313.70,303.04 L314.02,284.87 L314.34,302.94 L314.66,279.75 L314.98,277.67 L315.30,294.53 L315.62,273.96 L315.94,292.02 L316.26,270.23 L316.58,291.23 L316.90,266.96 L317.22,288.21 L317.54,279.52 L317.86,270.97 L318.18,283.39 L318.50,266.60 L318.82,280.01 L319.14,290.16 L319.46,270.52 L319.78,284.47 L320.10,271.57 L320.42,273.43 L320.74,285.92 L321.06,265.24 L321.38,269.31 L321.70,289.80 L322.02,293.79 L322.34,276.23 L322.66,289.58 L322.98,271.66 L323.30,274.93 L323.62,294.06 L323.94,285.89 L324.26,264.39 L324.58,265.82 L324.90,286.54 L325.22,260.73 L325.54,277.53 L325.86,259.37 L326.18,282.30 L326.50,270.32 L326.82,291.45 L327.14,270.60 L327.46,277.83 L327.78,286.55 L328.10,270.21 L328.42,263.57 L328.74,262.53 L329.06,265.69 L329.38,282.67 L329.70,264.55 L330.02,282.06 L330.34,262.53 L330.66,278.76 L330.98,266.11 L331.30,285.99 L331.62,263.01 L331.94,282.95 L332.26,265.16 L332.58,259.63 L332.90,279.54 L333.22,288.88 L333.54,286.06 L333.86,284.12 L334.18,291.24 L334.50,266.34 L334.82,280.33 L335.14,264.58 L335.46,284.45 L335.78,264.93 L336.10,270.65 L336.42,266.08 L336.74,271.55 L337.06,291.27 L337.38,284.64 L337.70,287.83 L338.02,269.34 L338.34,284.57 L338.66,268.10 L338.98,284.60 L339.30,284.19 L339.62,272.74 L339.94,283.34 L340.26,269.99 L340.58,272.36 L340.90,287.60 L341.22,270.77 L341.54,279.23 L341.86,270.48 L342.18,271.00 L342.50,271.53 L342.82,276.98 L343.14,286.63 L343.46,282.08 L343.78,290.10 L344.10,277.84 L344.42,294.36 L344.74,292.94 L345.06,278.18 L345.38,293.11 L345.70,292.57 L346.02,296.70 L346.34,296.17 L346.66,285.30 L346.98,296.15 L347.30,295.69 L347.62,283.88 L347.94,283.78 L348.26,300.68 L348.58,281.95 L348.90,296.42 L349.22,280.40 L349.54,303.70 L349.86,289.39 L350.18,306.49 L350.50,289.14 L350.82,303.67 L351.14,296.18 L351.46,305.51 L351.78,290.55 L352.10,306.60 L352.42,285.22 L352.74,297.47 L353.06,290.09 L353.38,287.85 L353.70,287.96 L354.02,303.91 L354.34,291.89 L354.66,300.36 L354.98,287.66 L355.30,309.97 L355.62,301.96 L355.94,317.73 L356.26,307.86 L356.58,314.01 L356.90,294.70 L357.22,288.77 L357.54,288.92 L357.86,308.16 L358.18,289.23 L358.50,300.74 L358.82,314.51 L359.14,303.56 L359.46,321.61 L359.78,305.22 L360.10,311.91 L360.42,294.72 L360.74,321.18 L361.06,294.32 L361.38,318.22 L361.70,317.94 L362.02,300.14 L362.34,323.05 L362.66,314.71 L362.98,292.31 L363.30,319.98 L363.62,303.07 L363.94,318.60 L364.26,307.38 L364.58,318.53 L364.90,300.14 L365.22,321.31 L365.54,315.88 L365.86,297.12 L366.18,297.74 L366.50,316.30 L366.82,295.51 L367.14,313.20 L367.46,293.93 L367.78,311.72 L368.10,292.63 L368.42,308.26 L368.74,289.45 L369.06,291.15 L369.38,301.62 L369.70,305.86 L370.02,292.90 L370.34,307.45 L370.66,308.08 L370.98,290.76 L371.30,308.88 L371.62,290.39 L371.94,303.04 L372.26,294.77 L372.58,306.18 L372.90,285.49 L373.22,298.05 L373.54,284.73 L373.86,299.15 L374.18,300.03 L374.50,286.75 L374.82,300.27 L375.14,289.06 L375.46,302.01 L375.78,298.56 L376.10,300.02 L376.42,283.73 L376.74,284.56 L377.06,296.39 L377.38,294.76 L377.70,276.98 L378.02,292.11 L378.34,279.79 L378.66,292.22 L378.98,282.61 L379.30,279.53 L379.62,290.41 L379.94,277.21 L380.26,290.38 L380.58,283.15 L380.90,280.00 L381.22,293.73 L381.54,285.92 L381.86,296.38 L382.18,282.18 L382.50,295.65 L382.82,279.79 L383.14,294.92 L383.46,290.27 L383.78,274.53 L384.10,289.14 L384.42,274.84 L384.74,282.88 L385.06,271.41 L385.38,280.25 L385.70,275.04 L386.02,265.70 L386.34,278.46 L386.66,264.88 L386.98,287.10 L387.30,285.90 L387.62,275.49 L387.94,291.89 L388.26,273.99 L388.58,270.08 L388.90,270.08 L389.22,287.62 L389.54,264.71 L389.86,282.11 L390.18,260.93 L390.50,286.25 L390.82,283.64 L391.14,256.10 L391.46,275.78 L391.78,257.09 L392.10,279.74 L392.42,277.39 L392.74,263.56 L393.06,284.62 L393.38,283.64 L393.70,260.05 L394.02,268.90 L394.34,283.82 L394.66,263.74 L394.98,285.68 L395.30,266.13 L395.62,282.92 L395.94,286.71 L396.26,272.67 L396.58,288.91 L396.90,267.65 L397.22,291.80 L397.54,274.69 L397.86,290.48 L398.18,270.75 L398.50,274.72 L398.82,268.45 L399.14,289.75 L399.46,277.22 L399.78,273.79 L400.10,288.99 L400.42,287.03 L400.74,281.90 L401.06,268.35 L401.38,270.14 L401.70,285.75 L402.02,273.49 L402.34,265.81 L402.66,287.45 L402.98,288.90 L403.30,270.90 L403.62,289.33 L403.94,274.34 L404.26,284.60 L404.58,273.32 L404.90,282.46 L405.22,273.55 L405.54,266.94 L405.86,282.27 L406.18,286.38 L406.50,288.41 L406.82,289.65 L407.14,270.81 L407.46,288.42 L407.78,278.42 L408.10,295.22 L408.42,291.86 L408.74,278.22 L409.06,295.97 L409.38,276.29 L409.70,292.13 L410.02,293.13 L410.34,286.72 L410.66,273.29 L410.98,290.89 L411.30,276.96 L411.62,291.21 L411.94,276.13 L412.26,271.90 L412.58,272.54 L412.90,287.06 L413.22,275.01 L413.54,278.04 L413.86,289.93 L414.18,293.91 L414.50,297.18 L414.82,294.04 L415.14,282.16 L415.46,283.22 L415.78,277.45 L416.10,291.52 L416.42,280.24 L416.74,296.34 L417.06,277.99 L417.38,292.94 L417.70,276.32 L418.02,280.21 L418.34,297.47 L418.66,280.01 L418.98,287.40 L419.30,298.66 L419.62,286.93 L419.94,303.14 L420.26,292.98 L420.58,279.27 L420.90,284.01 L421.22,293.28 L421.54,291.64 L421.86,298.39 L422.18,294.79 L422.50,280.01 L422.82,301.03 L423.14,288.85 L423.46,300.03 L423.78,292.63 L424.10,300.01 L424.42,279.03 L424.74,294.93 L425.06,276.09 L425.38,296.43 L425.70,282.05 L426.02,296.60 L426.34,273.11 L426.66,288.81 L426.98,277.33 L427.30,297.09 L427.62,276.37 L427.94,302.44 L428.26,286.92 L428.58,303.11 L428.90,282.89 L429.22,294.32 L429.54,301.01 L429.86,303.37 L430.18,282.89 L430.50,296.85 L430.82,280.19 L431.14,293.55 L431.46,282.12 L431.78,297.17 L432.10,280.13 L432.42,291.54 L432.74,291.57 L433.06,278.50 L433.38,290.01 L433.70,280.79 L434.02,293.79 L434.34,278.89 L434.66,291.47 L434.98,280.21 L435.30,290.43 L435.62,280.02 L435.94,288.28 L436.26,281.42 L436.58,281.76 L436.90,289.12 L437.22,281.84 L437.54,294.01 L437.86,284.06 L438.18,290.73 L438.50,279.03 L438.82,281.59 L439.14,286.63 L439.46,279.40 L439.78,279.11 L440.10,277.91 L440.42,289.57 L440.74,279.01 L441.06,289.10 L441.38,278.18 L441.70,292.76 L442.02,284.51 L442.34,281.79 L442.66,296.38 L442.98,293.86 L443.30,279.00 L443.62,292.13 L443.94,283.15 L444.26,285.87 L444.58,288.67 L444.90,302.59 L445.22,287.37 L445.54,296.47 L445.86,283.42 L446.18,301.67 L446.50,296.98 L446.82,293.19 L447.14,291.57 L447.46,305.46 L447.78,295.66 L448.10,300.91 L448.42,288.69 L448.74,299.04 L449.06,287.08 L449.38,300.76 L449.70,288.27 L450.02,292.25 L450.34,305.37 L450.66,289.59 L450.98,307.33 L451.30,293.35 L451.62,291.69 L451.94,305.46 L452.26,297.20 L452.58,311.58 L452.90,286.39 L453.22,309.55 L453.54,296.09 L453.86,309.03 L454.18,308.70 L454.50,292.46 L454.82,310.10 L455.14,287.12 L455.46,300.94 L455.78,308.23 L456.10,288.78 L456.42,301.37 L456.74,302.76 L457.06,286.88 L457.38,309.77 L457.70,316.51 L458.02,295.59 L458.34,295.88 L458.66,316.90 L458.98,298.56 L459.30,310.57 L459.62,291.22 L459.94,282.84 L460.26,283.40 L460.58,299.63 L460.90,290.11 L461.22,305.09 L461.54,285.86 L461.86,304.32 L462.18,289.23 L462.50,311.69 L462.82,296.94 L463.14,300.10 L463.46,317.37 L463.78,296.86 L464.10,318.70 L464.42,301.14 L464.74,300.93 L465.06,311.82 L465.38,306.28 L465.70,295.30 L466.02,298.03 L466.34,311.44 L466.66,296.39 L466.98,310.27 L467.30,301.79 L467.62,316.00 L467.94,302.13 L468.26,320.59 L468.58,320.65 L468.90,300.17 L469.22,302.94 L469.54,305.58 L469.86,318.50 L470.18,322.58 L470.50,306.82 L470.82,322.66 L471.14,303.76 L471.46,319.08 L471.78,302.42 L472.10,322.27 L472.42,303.92 L472.74,326.48 L473.06,311.94 L473.38,328.56 L473.70,308.02 L474.02,312.70 L474.34,308.67 L474.66,327.61 L474.98,310.28 L475.30,327.86 L475.62,324.34 L475.94,310.94 L476.26,305.72 L476.58,305.86 L476.90,324.71 L477.22,308.51 L477.54,328.76 L477.86,313.91 L478.18,333.69 L478.50,333.82 L478.82,315.46 L479.14,314.77 L479.46,336.67 L479.78,312.02 L480.10,313.58 L480.42,325.45 L480.74,327.92 L481.06,328.48 L481.38,326.19 L481.70,316.22 L482.02,330.60 L482.34,335.73 L482.66,316.98 L482.98,314.84 L483.30,304.69 L483.62,304.44 L483.94,323.73 L484.26,303.93 L484.58,324.31 L484.90,303.80 L485.22,323.57 L485.54,304.82 L485.86,321.31 L486.18,322.89 L486.50,309.43 L486.82,327.04 L487.14,330.45 L487.46,314.97 L487.78,327.59 L488.10,326.85 L488.42,323.66 L488.74,324.60 L489.06,333.54 L489.38,336.18 L489.70,323.67 L490.02,320.87 L490.34,332.13 L490.66,330.89 L490.98,319.33 L491.30,332.91 L491.62,320.44 L491.94,330.82 L492.26,312.48 L492.58,332.63 L492.90,313.71 L493.22,332.28 L493.54,320.21 L493.86,330.37 L494.18,318.85 L494.50,335.58 L494.82,330.20 L495.14,323.44 L495.46,320.13 L495.78,328.03 L496.10,314.33 L496.42,317.55 L496.74,330.96 L497.06,328.22 L497.38,315.68 L497.70,334.16 L498.02,322.29 L498.34,336.93 L498.66,320.01 L498.98,318.87 L499.30,330.69 L499.62,313.69 L499.94,334.00 L500.26,323.05 L500.58,331.39 L500.90,321.01 L501.22,326.86 L501.54,317.35 L501.86,325.69 L502.18,315.08 L502.50,333.95 L502.82,325.60 L503.14,335.62 L503.46,327.49 L503.78,333.33 L504.10,336.07 L504.42,325.97 L504.74,342.49 L505.06,325.84 L505.38,323.51 L505.70,347.38 L506.02,326.87 L506.34,322.91 L506.66,337.21 L506.98,319.77 L507.30,345.22 L507.62,322.92 L507.94,345.15 L508.26,328.37 L508.58,339.61 L508.90,323.55 L509.22,340.45 L509.54,345.35 L509.86,331.33 L510.18,353.44 L510.50,337.92 L510.82,342.83 L511.14,340.71 L511.46,330.93 L511.78,343.81 L512.10,332.28 L512.42,331.70 L512.74,349.79 L513.06,335.91 L513.38,336.26 L513.70,337.11 L514.02,336.93 L514.34,348.73 L514.66,337.18 L514.98,348.26 L515.30,349.43 L515.62,343.85 L515.94,334.87 L516.26,347.41 L516.58,349.89 L516.90,335.29 L517.22,351.86 L517.54,348.42 L517.86,352.76 L518.18,352.58 L518.50,335.87 L518.82,341.94 L519.14,330.48 L519.46,343.60 L519.78,332.23 L520.10,329.49 L520.42,329.15 L520.74,329.54 L521.06,347.11 L521.38,331.21 L521.70,352.31 L522.02,342.31 L522.34,335.91 L522.66,342.27 L522.98,358.06 L523.30,336.06 L523.62,330.85 L523.94,331.59 L524.26,329.20 L524.58,350.04 L524.90,334.69 L525.22,353.49 L525.54,352.34 L525.86,330.36 L526.18,350.27 L526.50,321.57 L526.82,351.14 L527.14,326.64 L527.46,318.58 L527.78,345.84 L528.10,317.51 L528.42,340.08 L528.74,321.66 L529.06,321.45 L529.38,347.87 L529.70,333.49 L530.02,341.92 L530.34,350.95 L530.66,323.00 L530.98,328.63 L531.30,335.45 L531.62,316.47 L531.94,321.78 L532.26,316.91 L532.58,337.03 L532.90,321.04 L533.22,331.02 L533.54,306.80 L533.86,320.95 L534.18,328.26 L534.50,305.20 L534.82,336.34 L535.14,305.89 L535.46,333.16 L535.78,311.51 L536.10,324.74 L536.42,306.55 L536.74,336.31 L537.06,315.85 L537.38,337.43 L537.70,319.43 L538.02,316.97 L538.34,310.69 L538.66,333.12 L538.98,314.96 L539.30,328.81 L539.62,324.23 L539.94,323.92 L540.26,335.75 L540.58,317.75 L540.90,332.11 L541.22,312.72 L541.54,332.29 L541.86,313.54 L542.18,328.26 L542.50,313.10 L542.82,328.79 L543.14,306.48 L543.46,324.25 L543.78,311.46 L544.10,320.90 L544.42,320.16 L544.74,302.03 L545.06,318.26 L545.38,302.85 L545.70,314.76 L546.02,316.95 L546.34,316.06 L546.66,319.83 L546.98,302.67 L547.30,303.13 L547.62,304.14 L547.94,317.25 L548.26,315.64 L548.58,319.87 L548.90,306.39 L549.22,321.31 L549.54,310.62 L549.86,327.55 L550.18,308.81 L550.50,325.74 L550.82,318.94 L551.14,324.96 L551.46,306.14 L551.78,321.11 L552.10,320.97 L552.42,322.13 L552.74,309.21 L553.06,314.66 L553.38,303.26 L553.70,313.41 L554.02,315.77 L554.34,301.83 L554.66,303.60 L554.98,313.70 L555.30,305.32 L555.62,307.70 L555.94,294.12 L556.26,303.54 L556.58,305.98 L556.90,293.79 L557.22,308.32 L557.54,302.33 L557.86,308.47 L558.18,295.11 L558.50,311.05 L558.82,303.69 L559.14,296.66 L559.46,305.55 L559.78,296.46 L560.10,307.68 L560.42,308.15 L560.74,295.92 L561.06,297.13 L561.38,306.67 L561.70,292.96 L562.02,306.99 L562.34,304.65 L562.66,299.29 L562.98,315.38 L563.30,311.56 L563.62,292.23 L563.94,308.81 L564.26,290.54 L564.58,292.36 L564.90,309.20 L565.22,308.66 L565.54,299.73 L565.86,312.36 L566.18,295.72 L566.50,314.99 L566.82,296.27 L567.14,293.89 L567.46,292.11 L567.78,306.87 L568.10,311.89 L568.42,296.09 L568.74,308.83 L569.06,296.41 L569.38,312.63 L569.70,307.48 L570.02,297.69 L570.34,311.54 L570.66,314.33 L570.98,320.49 L571.30,303.99 L571.62,311.79 L571.94,321.02 L572.26,301.85 L572.58,301.79 L572.90,319.18 L573.22,303.05 L573.54,306.14 L573.86,318.52 L574.18,301.13 L574.50,316.27 L574.82,305.02 L575.14,316.44 L575.46,305.42 L575.78,316.11 L576.10,310.14 L576.42,319.82 L576.74,309.32 L577.06,311.72 L577.38,323.92 L577.70,307.78 L578.02,308.90 L578.34,321.57 L578.66,310.50 L578.98,323.08 L579.30,314.66 L579.62,325.00 L579.94,311.62 L580.26,327.74 L580.58,309.10 L580.90,322.28 L581.22,314.78 L581.54,328.74 L581.86,318.02 L582.18,332.83 L582.50,318.50 L582.82,328.40 L583.14,333.00 L583.46,327.22 L583.78,321.00 L584.10,318.90 L584.42,316.58 L584.74,332.07 L585.06,329.11 L585.38,314.76 L585.70,332.12 L586.02,310.95 L586.34,328.36 L586.66,312.47 L586.98,325.32 L587.30,328.93 L587.62,308.47 L587.94,333.26 L588.26,315.98 L588.58,321.18 L588.90,334.31 L589.22,322.01 L589.54,338.76 L589.86,325.27 L590.18,337.35 L590.50,315.66 L590.82,326.68 L591.14,326.35 L591.46,315.46 L591.78,321.93 L592.10,318.36 L592.42,328.90 L592.74,328.02 L593.06,328.07 L593.38,327.50 L593.70,311.45 L594.02,308.34 L594.34,319.41 L594.66,313.20 L594.98,326.01 L595.30,310.40 L595.62,325.28 L595.94,321.63 L596.26,313.98 L596.58,315.79 L596.90,317.91 L597.22,304.36 L597.54,314.22 L597.86,308.22 L598.18,313.48 L598.50,303.44 L598.82,318.86 L599.14,305.70 L599.46,313.23 L599.78,315.45 L600.10,312.63 L600.42,305.75 L600.74,314.65 L601.06,302.81 L601.38,312.05 L601.70,299.20 L602.02,306.11 L602.34,296.71 L602.66,312.81 L602.98,300.60 L603.30,299.38 L603.62,312.08 L603.94,299.34 L604.26,301.75 L604.58,309.75 L604.90,301.69 L605.22,308.43 L605.54,311.51 L605.86,295.20 L606.18,304.82 L606.50,290.31 L606.82,292.64 L607.14,291.06 L607.46,303.00 L607.78,291.37 L608.10,300.95 L608.42,291.55 L608.74,303.45 L609.06,286.21 L609.38,285.82 L609.70,300.17 L610.02,287.45 L610.34,286.28 L610.66,296.82 L610.98,280.03 L611.30,292.25 L611.62,294.72 L611.94,277.79 L612.26,299.40 L612.58,300.23 L612.90,285.93 L613.22,300.15 L613.54,284.98 L613.86,294.37 L614.18,292.66 L614.50,274.90 L614.82,271.35 L615.14,295.73 L615.46,280.06 L615.78,297.81 L616.10,284.00 L616.42,279.41 L616.74,280.99 L617.06,293.31 L617.38,291.90 L617.70,284.19 L618.02,296.22 L618.34,286.49 L618.66,300.41 L618.98,301.42 L619.30,301.82 L619.62,281.66 L619.94,295.94 L620.26,284.28 L620.58,293.57 L620.90,300.91 L621.22,291.75 L621.54,294.03 L621.86,304.00 L622.18,300.35 L622.50,285.04 L622.82,286.59 L623.14,300.54 L623.46,304.40 L623.78,292.87 L624.10,301.65 L624.42,286.28 L624.74,282.21 L625.06,287.51 L625.38,297.87 L625.70,277.76 L626.02,294.67 L626.34,304.05 L626.66,290.84 L626.98,303.94 L627.30,306.85 L627.62,287.86 L627.94,305.09 L628.26,287.02 L628.58,287.44 L628.90,299.93 L629.22,286.27 L629.54,293.66 L629.86,307.67 L630.18,287.74 L630.50,287.46 L630.82,308.54 L631.14,291.38 L631.46,293.43 L631.78,307.61 L632.10,286.41 L632.42,290.99 L632.74,302.31 L633.06,284.21 L633.38,300.17 L633.70,295.78 L634.02,296.78 L634.34,280.90 L634.66,305.32 L634.98,287.92 L635.30,308.61 L635.62,282.90 L635.94,302.38 L636.26,299.72 L636.58,285.29 L636.90,299.69 L637.22,299.03 L637.54,283.41 L637.86,302.46 L638.18,286.89 L638.50,299.12 L638.82,278.84 L639.14,288.67 L639.46,282.07 L639.78,285.13 L640.10,280.18 L640.42,290.89 L640.74,293.00 L641.06,279.08 L641.38,280.22 L641.70,281.48 L642.02,288.85 L642.34,283.88 L642.66,282.59 L642.98,285.90 L643.30,279.96 L643.62,290.68 L643.94,283.16 L644.26,290.94 L644.58,295.39 L644.90,291.07 L645.22,277.30 L645.54,284.51 L645.86,277.56 L646.18,272.88 L646.50,292.19 L646.82,295.90 L647.14,279.01 L647.46,293.42 L647.78,279.27 L648.10,287.38 L648.42,278.81 L648.74,299.73 L649.06,278.08 L649.38,281.92 L649.70,291.80 L650.02,302.76 L650.34,274.19 L650.66,277.98 L650.98,298.88 L651.30,279.95 L651.62,297.44 L651.94,277.70 L652.26,293.19 L652.58,293.44 L652.90,282.51 L653.22,270.17 L653.54,265.50 L653.86,283.34 L654.18,287.38 L654.50,272.41 L654.82,268.06 L655.14,284.29 L655.46,266.80 L655.78,282.30 L656.10,268.89 L656.42,278.77 L656.74,264.96 L657.06,275.95 L657.38,257.23 L657.70,270.73 L658.02,269.30 L658.34,273.96 L658.66,258.17 L658.98,271.65 L659.30,257.48 L659.62,267.52 L659.94,251.22 L660.26,273.19 L660.58,253.06 L660.90,265.99 L661.22,250.44 L661.54,270.57 L661.86,248.40 L662.18,262.74 L662.50,246.96 L662.82,249.90 L663.14,259.33 L663.46,250.12 L663.78,270.28 L664.10,242.68 L664.42,263.24 L664.74,248.73 L665.06,265.45 L665.38,248.90 L665.70,242.43 L666.02,256.43 L666.34,249.73 L666.66,258.60 L666.98,242.57 L667.30,249.41 L667.62,238.58 L667.94,232.86 L668.26,232.30 L668.58,244.64 L668.90,231.46 L669.22,251.12 L669.54,230.04 L669.86,248.95 L670.18,238.50 L670.50,251.33 L670.82,249.60 L671.14,249.30 L671.46,234.43 L671.78,235.74 L672.10,245.49 L672.42,231.19 L672.74,232.08 L673.06,232.32 L673.38,243.10" fill="none" stroke="#0000ff" stroke-width="0.55" stroke-linejoin="miter"/>
<line x1="32.4" y1="13.0" x2="32.4" y2="171.3" stroke="#4a4a4a" stroke-width="1"/>
<line x1="32.4" y1="171.3" x2="675.4" y2="171.3" stroke="#8c8c8c" stroke-width="1.4"/>
<line x1="29.8" y1="163.10" x2="32.4" y2="163.10" class="t"/>
<line x1="29.8" y1="131.90" x2="32.4" y2="131.90" class="t"/>
<line x1="29.8" y1="100.70" x2="32.4" y2="100.70" class="t"/>
<line x1="29.8" y1="69.50" x2="32.4" y2="69.50" class="t"/>
<line x1="29.8" y1="38.30" x2="32.4" y2="38.30" class="t"/>
<line x1="30.1" y1="170.90" x2="32.4" y2="170.90" class="t"/>
<line x1="30.1" y1="155.30" x2="32.4" y2="155.30" class="t"/>
<line x1="30.1" y1="147.50" x2="32.4" y2="147.50" class="t"/>
<line x1="30.1" y1="139.70" x2="32.4" y2="139.70" class="t"/>
<line x1="30.1" y1="124.10" x2="32.4" y2="124.10" class="t"/>
<line x1="30.1" y1="116.30" x2="32.4" y2="116.30" class="t"/>
<line x1="30.1" y1="108.50" x2="32.4" y2="108.50" class="t"/>
<line x1="30.1" y1="92.90" x2="32.4" y2="92.90" class="t"/>
<line x1="30.1" y1="85.10" x2="32.4" y2="85.10" class="t"/>
<line x1="30.1" y1="77.30" x2="32.4" y2="77.30" class="t"/>
<line x1="30.1" y1="61.70" x2="32.4" y2="61.70" class="t"/>
<line x1="30.1" y1="53.90" x2="32.4" y2="53.90" class="t"/>
<line x1="30.1" y1="46.10" x2="32.4" y2="46.10" class="t"/>
<line x1="30.1" y1="30.50" x2="32.4" y2="30.50" class="t"/>
<line x1="30.1" y1="22.70" x2="32.4" y2="22.70" class="t"/>
<line x1="30.1" y1="14.90" x2="32.4" y2="14.90" class="t"/>
<line x1="32.40" y1="171.3" x2="32.40" y2="175.10000000000002" class="t"/>
<line x1="43.11" y1="171.3" x2="43.11" y2="173.60000000000002" class="tm"/>
<line x1="53.82" y1="171.3" x2="53.82" y2="173.60000000000002" class="tm"/>
<line x1="64.53" y1="171.3" x2="64.53" y2="173.60000000000002" class="tm"/>
<line x1="75.23" y1="171.3" x2="75.23" y2="175.10000000000002" class="t"/>
<line x1="85.94" y1="171.3" x2="85.94" y2="173.60000000000002" class="tm"/>
<line x1="96.65" y1="171.3" x2="96.65" y2="173.60000000000002" class="tm"/>
<line x1="107.36" y1="171.3" x2="107.36" y2="173.60000000000002" class="tm"/>
<line x1="118.07" y1="171.3" x2="118.07" y2="175.10000000000002" class="t"/>
<line x1="128.78" y1="171.3" x2="128.78" y2="173.60000000000002" class="tm"/>
<line x1="139.48" y1="171.3" x2="139.48" y2="173.60000000000002" class="tm"/>
<line x1="150.19" y1="171.3" x2="150.19" y2="173.60000000000002" class="tm"/>
<line x1="160.90" y1="171.3" x2="160.90" y2="175.10000000000002" class="t"/>
<line x1="171.61" y1="171.3" x2="171.61" y2="173.60000000000002" class="tm"/>
<line x1="182.32" y1="171.3" x2="182.32" y2="173.60000000000002" class="tm"/>
<line x1="193.03" y1="171.3" x2="193.03" y2="173.60000000000002" class="tm"/>
<line x1="203.73" y1="171.3" x2="203.73" y2="175.10000000000002" class="t"/>
<line x1="214.44" y1="171.3" x2="214.44" y2="173.60000000000002" class="tm"/>
<line x1="225.15" y1="171.3" x2="225.15" y2="173.60000000000002" class="tm"/>
<line x1="235.86" y1="171.3" x2="235.86" y2="173.60000000000002" class="tm"/>
<line x1="246.57" y1="171.3" x2="246.57" y2="175.10000000000002" class="t"/>
<line x1="257.27" y1="171.3" x2="257.27" y2="173.60000000000002" class="tm"/>
<line x1="267.98" y1="171.3" x2="267.98" y2="173.60000000000002" class="tm"/>
<line x1="278.69" y1="171.3" x2="278.69" y2="173.60000000000002" class="tm"/>
<line x1="289.40" y1="171.3" x2="289.40" y2="175.10000000000002" class="t"/>
<line x1="300.11" y1="171.3" x2="300.11" y2="173.60000000000002" class="tm"/>
<line x1="310.82" y1="171.3" x2="310.82" y2="173.60000000000002" class="tm"/>
<line x1="321.52" y1="171.3" x2="321.52" y2="173.60000000000002" class="tm"/>
<line x1="332.23" y1="171.3" x2="332.23" y2="175.10000000000002" class="t"/>
<line x1="342.94" y1="171.3" x2="342.94" y2="173.60000000000002" class="tm"/>
<line x1="353.65" y1="171.3" x2="353.65" y2="173.60000000000002" class="tm"/>
<line x1="364.36" y1="171.3" x2="364.36" y2="173.60000000000002" class="tm"/>
<line x1="375.07" y1="171.3" x2="375.07" y2="175.10000000000002" class="t"/>
<line x1="385.77" y1="171.3" x2="385.77" y2="173.60000000000002" class="tm"/>
<line x1="396.48" y1="171.3" x2="396.48" y2="173.60000000000002" class="tm"/>
<line x1="407.19" y1="171.3" x2="407.19" y2="173.60000000000002" class="tm"/>
<line x1="417.90" y1="171.3" x2="417.90" y2="175.10000000000002" class="t"/>
<line x1="428.61" y1="171.3" x2="428.61" y2="173.60000000000002" class="tm"/>
<line x1="439.32" y1="171.3" x2="439.32" y2="173.60000000000002" class="tm"/>
<line x1="450.02" y1="171.3" x2="450.02" y2="173.60000000000002" class="tm"/>
<line x1="460.73" y1="171.3" x2="460.73" y2="175.10000000000002" class="t"/>
<line x1="471.44" y1="171.3" x2="471.44" y2="173.60000000000002" class="tm"/>
<line x1="482.15" y1="171.3" x2="482.15" y2="173.60000000000002" class="tm"/>
<line x1="492.86" y1="171.3" x2="492.86" y2="173.60000000000002" class="tm"/>
<line x1="503.57" y1="171.3" x2="503.57" y2="175.10000000000002" class="t"/>
<line x1="514.27" y1="171.3" x2="514.27" y2="173.60000000000002" class="tm"/>
<line x1="524.98" y1="171.3" x2="524.98" y2="173.60000000000002" class="tm"/>
<line x1="535.69" y1="171.3" x2="535.69" y2="173.60000000000002" class="tm"/>
<line x1="546.40" y1="171.3" x2="546.40" y2="175.10000000000002" class="t"/>
<line x1="557.11" y1="171.3" x2="557.11" y2="173.60000000000002" class="tm"/>
<line x1="567.82" y1="171.3" x2="567.82" y2="173.60000000000002" class="tm"/>
<line x1="578.52" y1="171.3" x2="578.52" y2="173.60000000000002" class="tm"/>
<line x1="589.23" y1="171.3" x2="589.23" y2="175.10000000000002" class="t"/>
<line x1="599.94" y1="171.3" x2="599.94" y2="173.60000000000002" class="tm"/>
<line x1="610.65" y1="171.3" x2="610.65" y2="173.60000000000002" class="tm"/>
<line x1="621.36" y1="171.3" x2="621.36" y2="173.60000000000002" class="tm"/>
<line x1="632.07" y1="171.3" x2="632.07" y2="175.10000000000002" class="t"/>
<line x1="642.77" y1="171.3" x2="642.77" y2="173.60000000000002" class="tm"/>
<line x1="653.48" y1="171.3" x2="653.48" y2="173.60000000000002" class="tm"/>
<line x1="664.19" y1="171.3" x2="664.19" y2="173.60000000000002" class="tm"/>
<line x1="674.90" y1="171.3" x2="674.90" y2="175.10000000000002" class="t"/>
<line x1="33.7" y1="221.4" x2="33.7" y2="365.0" stroke="#4a4a4a" stroke-width="1"/>
<line x1="33.7" y1="365.0" x2="674.0" y2="365.0" stroke="#8c8c8c" stroke-width="1.4"/>
<line x1="30.0" y1="350.14" x2="33.7" y2="350.14" class="t"/>
<line x1="30.0" y1="326.77" x2="33.7" y2="326.77" class="t"/>
<line x1="30.0" y1="303.40" x2="33.7" y2="303.40" class="t"/>
<line x1="30.0" y1="280.03" x2="33.7" y2="280.03" class="t"/>
<line x1="30.0" y1="256.66" x2="33.7" y2="256.66" class="t"/>
<line x1="30.0" y1="233.29" x2="33.7" y2="233.29" class="t"/>
<line x1="31.2" y1="361.82" x2="33.7" y2="361.82" class="t"/>
<line x1="31.2" y1="355.98" x2="33.7" y2="355.98" class="t"/>
<line x1="31.2" y1="344.30" x2="33.7" y2="344.30" class="t"/>
<line x1="31.2" y1="338.45" x2="33.7" y2="338.45" class="t"/>
<line x1="31.2" y1="332.61" x2="33.7" y2="332.61" class="t"/>
<line x1="31.2" y1="320.93" x2="33.7" y2="320.93" class="t"/>
<line x1="31.2" y1="315.08" x2="33.7" y2="315.08" class="t"/>
<line x1="31.2" y1="309.24" x2="33.7" y2="309.24" class="t"/>
<line x1="31.2" y1="297.56" x2="33.7" y2="297.56" class="t"/>
<line x1="31.2" y1="291.71" x2="33.7" y2="291.71" class="t"/>
<line x1="31.2" y1="285.87" x2="33.7" y2="285.87" class="t"/>
<line x1="31.2" y1="274.19" x2="33.7" y2="274.19" class="t"/>
<line x1="31.2" y1="268.34" x2="33.7" y2="268.34" class="t"/>
<line x1="31.2" y1="262.50" x2="33.7" y2="262.50" class="t"/>
<line x1="31.2" y1="250.82" x2="33.7" y2="250.82" class="t"/>
<line x1="31.2" y1="244.97" x2="33.7" y2="244.97" class="t"/>
<line x1="31.2" y1="239.13" x2="33.7" y2="239.13" class="t"/>
<line x1="31.2" y1="227.45" x2="33.7" y2="227.45" class="t"/>
<line x1="33.70" y1="365.0" x2="33.70" y2="368.8" class="t"/>
<line x1="58.68" y1="365.0" x2="58.68" y2="367.3" class="tm"/>
<line x1="83.67" y1="365.0" x2="83.67" y2="367.3" class="tm"/>
<line x1="108.65" y1="365.0" x2="108.65" y2="367.3" class="tm"/>
<line x1="133.63" y1="365.0" x2="133.63" y2="368.8" class="t"/>
<line x1="158.62" y1="365.0" x2="158.62" y2="367.3" class="tm"/>
<line x1="183.60" y1="365.0" x2="183.60" y2="367.3" class="tm"/>
<line x1="208.58" y1="365.0" x2="208.58" y2="367.3" class="tm"/>
<line x1="233.57" y1="365.0" x2="233.57" y2="368.8" class="t"/>
<line x1="258.55" y1="365.0" x2="258.55" y2="367.3" class="tm"/>
<line x1="283.53" y1="365.0" x2="283.53" y2="367.3" class="tm"/>
<line x1="308.52" y1="365.0" x2="308.52" y2="367.3" class="tm"/>
<line x1="333.50" y1="365.0" x2="333.50" y2="368.8" class="t"/>
<line x1="358.48" y1="365.0" x2="358.48" y2="367.3" class="tm"/>
<line x1="383.47" y1="365.0" x2="383.47" y2="367.3" class="tm"/>
<line x1="408.45" y1="365.0" x2="408.45" y2="367.3" class="tm"/>
<line x1="433.43" y1="365.0" x2="433.43" y2="368.8" class="t"/>
<line x1="458.42" y1="365.0" x2="458.42" y2="367.3" class="tm"/>
<line x1="483.40" y1="365.0" x2="483.40" y2="367.3" class="tm"/>
<line x1="508.38" y1="365.0" x2="508.38" y2="367.3" class="tm"/>
<line x1="533.37" y1="365.0" x2="533.37" y2="368.8" class="t"/>
<line x1="558.35" y1="365.0" x2="558.35" y2="367.3" class="tm"/>
<line x1="583.33" y1="365.0" x2="583.33" y2="367.3" class="tm"/>
<line x1="608.32" y1="365.0" x2="608.32" y2="367.3" class="tm"/>
<line x1="633.30" y1="365.0" x2="633.30" y2="368.8" class="t"/>
<line x1="658.28" y1="365.0" x2="658.28" y2="367.3" class="tm"/>
<text class="tx" transform="translate(216.10,7.90) scale(1.38,1)" x="-0.51" y="0" font-size="10.0" letter-spacing="-0.624">CNC-1 - 5 - Axial - Vel Spec/Wfm 30000 CPM</text>
<text class="tx" transform="translate(216.10,214.80) scale(1.38,1)" x="-0.51" y="0" font-size="10.0" letter-spacing="-0.624">CNC-1 - 5 - Axial - Vel Spec/Wfm 30000 CPM</text>
<text class="tx" x="24.53" y="164.80" font-size="7.7" textLength="4.71" lengthAdjust="spacingAndGlyphs">0</text>
<text class="tx" x="8.07" y="133.60" font-size="7.7" textLength="21.20" lengthAdjust="spacingAndGlyphs">0.005</text>
<text class="tx" x="12.84" y="102.40" font-size="7.7" textLength="16.49" lengthAdjust="spacingAndGlyphs">0.01</text>
<text class="tx" x="8.07" y="71.20" font-size="7.7" textLength="21.20" lengthAdjust="spacingAndGlyphs">0.015</text>
<text class="tx" x="12.85" y="40.00" font-size="7.7" textLength="16.49" lengthAdjust="spacingAndGlyphs">0.02</text>
<text class="tx" x="30.05" y="180.80" font-size="7.7" textLength="4.71" lengthAdjust="spacingAndGlyphs">0</text>
<text class="tx" x="64.60" y="180.80" font-size="7.7" textLength="21.20" lengthAdjust="spacingAndGlyphs">2,000</text>
<text class="tx" x="107.54" y="180.80" font-size="7.7" textLength="21.20" lengthAdjust="spacingAndGlyphs">4,000</text>
<text class="tx" x="150.26" y="180.80" font-size="7.7" textLength="21.20" lengthAdjust="spacingAndGlyphs">6,000</text>
<text class="tx" x="193.12" y="180.80" font-size="7.7" textLength="21.20" lengthAdjust="spacingAndGlyphs">8,000</text>
<text class="tx" x="233.46" y="180.80" font-size="7.7" textLength="25.91" lengthAdjust="spacingAndGlyphs">10,000</text>
<text class="tx" x="276.30" y="180.80" font-size="7.7" textLength="25.91" lengthAdjust="spacingAndGlyphs">12,000</text>
<text class="tx" x="319.13" y="180.80" font-size="7.7" textLength="25.91" lengthAdjust="spacingAndGlyphs">14,000</text>
<text class="tx" x="361.96" y="180.80" font-size="7.7" textLength="25.91" lengthAdjust="spacingAndGlyphs">16,000</text>
<text class="tx" x="404.80" y="180.80" font-size="7.7" textLength="25.91" lengthAdjust="spacingAndGlyphs">18,000</text>
<text class="tx" x="447.74" y="180.80" font-size="7.7" textLength="25.91" lengthAdjust="spacingAndGlyphs">20,000</text>
<text class="tx" x="490.57" y="180.80" font-size="7.7" textLength="25.91" lengthAdjust="spacingAndGlyphs">22,000</text>
<text class="tx" x="533.41" y="180.80" font-size="7.7" textLength="25.91" lengthAdjust="spacingAndGlyphs">24,000</text>
<text class="tx" x="576.24" y="180.80" font-size="7.7" textLength="25.91" lengthAdjust="spacingAndGlyphs">26,000</text>
<text class="tx" x="619.07" y="180.80" font-size="7.7" textLength="25.91" lengthAdjust="spacingAndGlyphs">28,000</text>
<text class="tx" x="661.96" y="180.80" font-size="7.7" textLength="25.91" lengthAdjust="spacingAndGlyphs">30,000</text>
<text class="tx" x="345.92" y="190.00" font-size="6.7" textLength="16.39" lengthAdjust="spacingAndGlyphs">CPM</text>
<text class="tx" transform="translate(6.3,91.4) rotate(-90)" font-size="6.9" text-anchor="middle" textLength="37" lengthAdjust="spacingAndGlyphs">mm/s RMS</text>
<text class="tx2" x="557.28" y="23.20" font-size="8.8" textLength="117.23" lengthAdjust="spacingAndGlyphs">O/All 0.1122 mm/s RMS</text>
<text class="tx" x="19.30" y="235.49" font-size="6.4" textLength="10.85" lengthAdjust="spacingAndGlyphs">0.6</text>
<text class="tx" x="19.18" y="258.86" font-size="6.4" textLength="10.85" lengthAdjust="spacingAndGlyphs">0.4</text>
<text class="tx" x="19.35" y="282.23" font-size="6.4" textLength="10.85" lengthAdjust="spacingAndGlyphs">0.2</text>
<text class="tx" x="25.77" y="305.60" font-size="6.4" textLength="4.34" lengthAdjust="spacingAndGlyphs">0</text>
<text class="tx" x="16.75" y="328.97" font-size="6.4" textLength="13.45" lengthAdjust="spacingAndGlyphs">-0.2</text>
<text class="tx" x="16.58" y="352.34" font-size="6.4" textLength="13.45" lengthAdjust="spacingAndGlyphs">-0.4</text>
<text class="tx" x="31.53" y="375.20" font-size="6.4" textLength="4.34" lengthAdjust="spacingAndGlyphs">0</text>
<text class="tx" x="127.12" y="375.20" font-size="6.4" textLength="13.03" lengthAdjust="spacingAndGlyphs">500</text>
<text class="tx" x="223.66" y="375.20" font-size="6.4" textLength="19.54" lengthAdjust="spacingAndGlyphs">1,000</text>
<text class="tx" x="323.59" y="375.20" font-size="6.4" textLength="19.54" lengthAdjust="spacingAndGlyphs">1,500</text>
<text class="tx" x="423.63" y="375.20" font-size="6.4" textLength="19.54" lengthAdjust="spacingAndGlyphs">2,000</text>
<text class="tx" x="523.56" y="375.20" font-size="6.4" textLength="19.54" lengthAdjust="spacingAndGlyphs">2,500</text>
<text class="tx" x="623.54" y="375.20" font-size="6.4" textLength="19.54" lengthAdjust="spacingAndGlyphs">3,000</text>
<text class="tx" x="348.72" y="383.90" font-size="6.6" textLength="9.65" lengthAdjust="spacingAndGlyphs">ms</text>
<text class="tx" transform="translate(7.9,292.1) rotate(-90)" font-size="7.3" text-anchor="middle" textLength="18.3" lengthAdjust="spacingAndGlyphs">mm/s</text>
<text class="tx2" x="555.69" y="230.70" font-size="8.8" textLength="116.22" lengthAdjust="spacingAndGlyphs">O/All 0.1855 mm/s RMS</text>
<text class="tx2" x="557.55" y="241.00" font-size="8.8" textLength="113.86" lengthAdjust="spacingAndGlyphs">True pk-pk 1.119 mm/s</text>
<text class="tx2" x="577.91" y="251.40" font-size="8.8" textLength="95.07" lengthAdjust="spacingAndGlyphs">Crest Factor 3.017</text>
<rect x="304.1" y="200.8" width="8.7" height="1.2" fill="#000"/>
<rect x="329.0" y="200.8" width="1.7" height="1.2" fill="#000"/>
<rect x="341.6" y="200.8" width="6.6" height="1.2" fill="#000"/>
<rect x="349.9" y="200.8" width="1.9" height="1.2" fill="#000"/>
<rect x="366.6" y="200.8" width="2.2" height="1.2" fill="#000"/>
<rect x="681.6" y="174.5" width="3.4" height="8" fill="#fff"/>
<rect x="682.0" y="176.0" width="1.9" height="4.3" fill="#000"/>
</svg></body></html>
